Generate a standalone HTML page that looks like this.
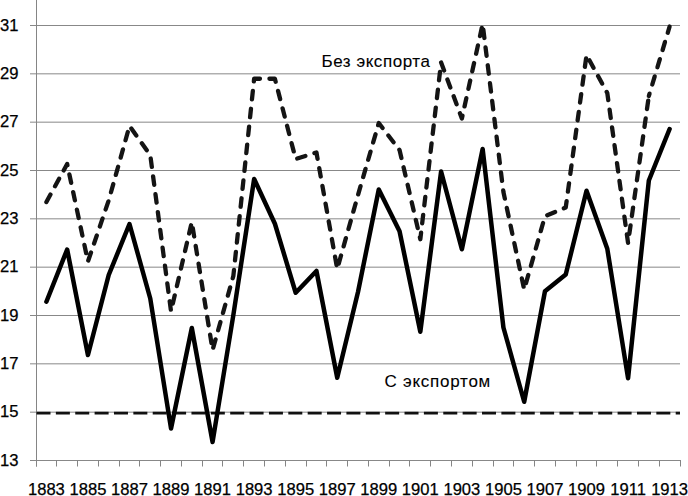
<!DOCTYPE html><html><head><meta charset="utf-8"><style>html,body{margin:0;padding:0;background:#fff;width:688px;height:496px;overflow:hidden}svg{display:block}text{font-family:"Liberation Sans",sans-serif;fill:#000}</style></head><body>
<svg width="688" height="496" viewBox="0 0 688 496">
<path d="M30 460.50H680 M30 412.17H680 M30 363.83H680 M30 315.50H680 M30 267.17H680 M30 218.83H680 M30 170.50H680 M30 122.17H680 M30 73.83H680 M30 25.50H680" stroke="#888888" stroke-width="1" fill="none"/>
<path d="M36.5 0V466.5" stroke="#858585" stroke-width="1" fill="none"/>
<path d="M36.5 460V466.5 M56.5 460V466.5 M77.5 460V466.5 M98.5 460V466.5 M119.5 460V466.5 M139.5 460V466.5 M160.5 460V466.5 M181.5 460V466.5 M202.5 460V466.5 M222.5 460V466.5 M243.5 460V466.5 M264.5 460V466.5 M285.5 460V466.5 M306.5 460V466.5 M326.5 460V466.5 M347.5 460V466.5 M368.5 460V466.5 M389.5 460V466.5 M409.5 460V466.5 M430.5 460V466.5 M451.5 460V466.5 M472.5 460V466.5 M493.5 460V466.5 M513.5 460V466.5 M534.5 460V466.5 M555.5 460V466.5 M576.5 460V466.5 M596.5 460V466.5 M617.5 460V466.5 M638.5 460V466.5 M659.5 460V466.5 M680.5 460V466.5" stroke="#858585" stroke-width="1" fill="none"/>
<text x="18.5" y="465.50" font-size="16.6" text-anchor="end" stroke="#000" stroke-width="0.25">13</text>
<text x="18.5" y="417.17" font-size="16.6" text-anchor="end" stroke="#000" stroke-width="0.25">15</text>
<text x="18.5" y="368.83" font-size="16.6" text-anchor="end" stroke="#000" stroke-width="0.25">17</text>
<text x="18.5" y="320.50" font-size="16.6" text-anchor="end" stroke="#000" stroke-width="0.25">19</text>
<text x="18.5" y="272.17" font-size="16.6" text-anchor="end" stroke="#000" stroke-width="0.25">21</text>
<text x="18.5" y="223.83" font-size="16.6" text-anchor="end" stroke="#000" stroke-width="0.25">23</text>
<text x="18.5" y="175.50" font-size="16.6" text-anchor="end" stroke="#000" stroke-width="0.25">25</text>
<text x="18.5" y="127.17" font-size="16.6" text-anchor="end" stroke="#000" stroke-width="0.25">27</text>
<text x="18.5" y="78.83" font-size="16.6" text-anchor="end" stroke="#000" stroke-width="0.25">29</text>
<text x="18.5" y="30.50" font-size="16.6" text-anchor="end" stroke="#000" stroke-width="0.25">31</text>
<text x="46.39" y="494.6" font-size="16.6" text-anchor="middle" stroke="#000" stroke-width="0.25">1883</text>
<text x="87.94" y="494.6" font-size="16.6" text-anchor="middle" stroke="#000" stroke-width="0.25">1885</text>
<text x="129.48" y="494.6" font-size="16.6" text-anchor="middle" stroke="#000" stroke-width="0.25">1887</text>
<text x="171.03" y="494.6" font-size="16.6" text-anchor="middle" stroke="#000" stroke-width="0.25">1889</text>
<text x="212.58" y="494.6" font-size="16.6" text-anchor="middle" stroke="#000" stroke-width="0.25">1891</text>
<text x="254.13" y="494.6" font-size="16.6" text-anchor="middle" stroke="#000" stroke-width="0.25">1893</text>
<text x="295.68" y="494.6" font-size="16.6" text-anchor="middle" stroke="#000" stroke-width="0.25">1895</text>
<text x="337.23" y="494.6" font-size="16.6" text-anchor="middle" stroke="#000" stroke-width="0.25">1897</text>
<text x="378.77" y="494.6" font-size="16.6" text-anchor="middle" stroke="#000" stroke-width="0.25">1899</text>
<text x="420.32" y="494.6" font-size="16.6" text-anchor="middle" stroke="#000" stroke-width="0.25">1901</text>
<text x="461.87" y="494.6" font-size="16.6" text-anchor="middle" stroke="#000" stroke-width="0.25">1903</text>
<text x="503.42" y="494.6" font-size="16.6" text-anchor="middle" stroke="#000" stroke-width="0.25">1905</text>
<text x="544.97" y="494.6" font-size="16.6" text-anchor="middle" stroke="#000" stroke-width="0.25">1907</text>
<text x="586.52" y="494.6" font-size="16.6" text-anchor="middle" stroke="#000" stroke-width="0.25">1909</text>
<text x="628.06" y="494.6" font-size="16.6" text-anchor="middle" stroke="#000" stroke-width="0.25">1911</text>
<text x="669.61" y="494.6" font-size="16.6" text-anchor="middle" stroke="#000" stroke-width="0.25">1913</text>
<path d="M36.5 413.17H680" stroke="#111" stroke-width="2.6" stroke-dasharray="14 5.37" fill="none"/>
<polyline points="46.39,301.75 67.16,249.5 87.94,355 108.71,275 129.48,224 150.26,298.5 171.03,428.5 191.81,328 212.58,442 233.35,315 254.13,179 274.90,223.75 295.68,292.75 316.45,271 337.23,377.75 358.00,292 378.77,189.5 399.55,231.25 420.32,331.75 441.10,171.5 461.87,249.25 482.65,149 503.42,327.5 524.19,401.75 544.97,291.25 565.74,274.5 586.52,190.75 607.29,248.75 628.06,378.25 648.84,180.5 669.61,129" stroke="#000" stroke-width="4.5" fill="none" stroke-linejoin="round" stroke-linecap="round"/>
<polyline points="46.39,202 67.16,164 87.94,261.5 108.71,200.4 129.48,126 150.26,155 171.03,311.3 191.81,222 212.58,350 233.35,276 254.13,78.75 274.90,78.75 295.68,159 316.45,152.5 337.23,269 358.00,195 378.77,123 399.55,150 420.32,239.25 441.10,62.5 461.87,118.5 482.65,24 503.42,192 524.19,289.5 544.97,216.25 565.74,207.5 586.52,55 607.29,93 628.06,243 648.84,96" stroke="#141414" stroke-width="4.3" fill="none" stroke-linejoin="round" stroke-linecap="round" stroke-dasharray="8.5 9.5"/>
<path d="M648.84 96L669.61 26.5" stroke="#141414" stroke-width="4.3" fill="none" stroke-linecap="round" stroke-dasharray="8.5 9.5" stroke-dashoffset="6"/>
<text x="321.5" y="66.5" font-size="17" letter-spacing="0.55" stroke="#000" stroke-width="0.1">Без экспорта</text>
<text x="384.5" y="386.7" font-size="17" letter-spacing="0.75" stroke="#000" stroke-width="0.1">С экспортом</text>
</svg></body></html>
